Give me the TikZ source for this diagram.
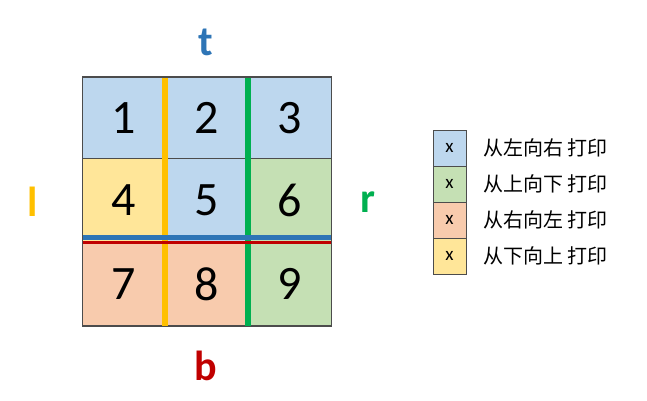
\documentclass[tikz,border=0pt]{standalone}
\usepackage{fontspec}
\setmainfont{Carlito}
\newfontfamily\cjk{Noto Sans CJK SC}
\definecolor{cb}{HTML}{BDD7EE}
\definecolor{cg}{HTML}{C5E0B4}
\definecolor{co}{HTML}{F8CBAD}
\definecolor{cy}{HTML}{FFE699}
\definecolor{lb}{HTML}{2E75B6}
\definecolor{lo}{HTML}{FFC000}
\definecolor{lg}{HTML}{00B050}
\definecolor{lr}{HTML}{C00000}
\begin{document}
\begin{tikzpicture}[x=1pt,y=-1pt,
  cell/.style={draw=black!70,line width=0.6pt,minimum width=83pt,minimum height=83pt,inner sep=0pt,font=\fontsize{48}{48}\selectfont},
  leg/.style={draw=black!70,line width=0.8pt,minimum width=33pt,minimum height=36pt,inner sep=0pt,font=\fontsize{19}{19}\selectfont},
  legt/.style={anchor=west,font=\cjk\fontsize{20}{20}\selectfont,inner sep=0pt},
  side/.style={font=\bfseries\fontsize{42}{42}\selectfont}]
\useasboundingbox (0,0) rectangle (647,401);
\node[cell,fill=cb] (c1) at (123.5,118) {1};
\node[cell,fill=cb] (c2) at (206.5,118) {2};
\node[cell,fill=cb] (c3) at (289.5,118) {3};
\node[cell,fill=cy] (c4) at (123.5,200) {4};
\node[cell,fill=cb] (c5) at (206.5,200) {5};
\node[cell,fill=cg] (c6) at (289.5,200) {6};
\node[cell,fill=co] (c7) at (123.5,284) {7};
\node[cell,fill=co] (c8) at (206.5,284) {8};
\node[cell,fill=cg] (c9) at (289.5,284) {9};
\draw[lo,line width=6pt] (165,77) -- (165,326);
\draw[lg,line width=6pt] (248,77) -- (248,326);
\draw[lb,line width=5pt] (82,237.5) -- (331,237.5);
\draw[lr,line width=3pt] (82,242.5) -- (331,242.5);
\draw[black!70,line width=0.6pt] (82,77) rectangle (331,326);
\node[side,text=lb] (t) at (206,42) {t};
\node[side,text=lo] (l) at (33,202) {l};
\node[side,text=lg] (r) at (368,202) {r};
\node[side,text=lr] (b) at (206,366) {b};
\node[leg,fill=cb] (k1) at (449.5,148) {x};
\node[leg,fill=cg] (k2) at (449.5,184) {x};
\node[leg,fill=co] (k3) at (449.5,220) {x};
\node[leg,fill=cy] (k4) at (449.5,256) {x};
\node[legt] (t1) at (483,148) {从左向右 打印};
\node[legt] (t2) at (483,184) {从上向下 打印};
\node[legt] (t3) at (483,220) {从右向左 打印};
\node[legt] (t4) at (483,256) {从下向上 打印};
\end{tikzpicture}
\end{document}
